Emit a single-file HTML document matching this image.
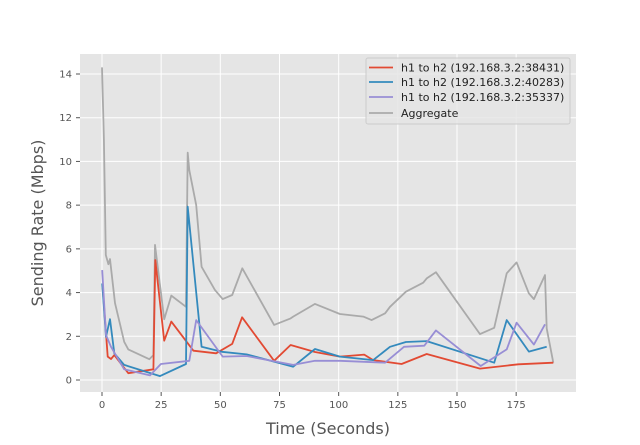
<!DOCTYPE html>
<html><head><meta charset="utf-8"><style>
body{margin:0;background:#fff;}
svg text{font-family:"DejaVu Sans","Liberation Sans",sans-serif;}
</style></head><body>
<svg id="chart" width="640" height="440" xmlns="http://www.w3.org/2000/svg">
<rect x="0" y="0" width="640" height="440" fill="#fff"/>
<rect x="80" y="54" width="496" height="338" fill="#e5e5e5"/>
<g id="grid"></g><g id="series"></g><g id="axes"></g><g id="legend"></g>
</svg>
<script>
const xTicks=[0,25,50,75,100,125,150,175];
const yTicks=[0,2,4,6,8,10,12,14];
const seriesNames=["h1 to h2 (192.168.3.2:38431)","h1 to h2 (192.168.3.2:40283)","h1 to h2 (192.168.3.2:35337)","Aggregate"];
const seriesColors=["#e24a33","#348abd","#988ed5","#aaaaaa"];
const redX=[0.3,2.4,3.8,5.2,11.1,21.7,22.5,26.3,29.3,38.6,48.2,55.0,59.2,72.7,79.7,90,100.5,110.8,114.6,126.6,137.2,159.7,175.9,190.7];
const redY=[4.2,1.07,0.96,1.14,0.31,0.49,5.49,1.80,2.67,1.34,1.22,1.65,2.87,0.88,1.60,1.28,1.07,1.16,0.91,0.73,1.19,0.52,0.72,0.79];
const blueX=[0.1,1.7,3.4,5.2,9.4,24.5,35.5,36.2,42.1,50.6,61.1,80.8,90,100.5,114.6,121.7,128.4,137.2,165.7,171,180.4,187.9];
const blueY=[4.42,1.98,2.78,1.22,0.69,0.18,0.73,7.93,1.52,1.29,1.17,0.61,1.42,1.07,0.91,1.52,1.74,1.78,0.79,2.74,1.30,1.52];
const purpleX=[0.1,1.7,3.8,9.4,20.3,24.9,36.9,39.8,51,61.1,80.8,90,100.5,119.6,127.6,136.2,141.1,160,171,175.2,182.5,187.2];
const purpleY=[5.03,2.06,1.52,0.49,0.21,0.73,0.88,2.74,1.07,1.10,0.69,0.88,0.88,0.79,1.52,1.57,2.27,0.64,1.40,2.62,1.62,2.55];
const aggX=[0,0.8,1.6,2.7,3.4,5.5,9.4,11.1,20,21.7,22.4,26.3,29.3,35.5,36.2,36.9,39.8,42.1,47.7,51,55,59.3,72.7,79.7,80.8,90,100.5,110.4,113.9,119.6,121.7,128.4,135.7,137.2,141.1,159.7,165.7,171,175.2,180.4,182.5,187.2,187.9,190.7];
const aggY=[14.3,11,5.72,5.3,5.53,3.52,1.75,1.40,0.95,1.14,6.18,2.78,3.86,3.35,10.4,9.6,8.0,5.18,4.12,3.70,3.89,5.11,2.52,2.82,2.90,3.48,3.02,2.90,2.74,3.05,3.35,4.04,4.45,4.65,4.93,2.10,2.39,4.88,5.38,3.96,3.70,4.80,2.36,0.79];
const xs=[redX,blueX,purpleX,aggX], ys=[redY,blueY,purpleY,aggY];
const NS="http://www.w3.org/2000/svg";
function sx(v){return 102+v*(457-102)/150;}
function sy(v){return 380-v*(380-74)/14;}
function mk(parent,tag,attrs){const e=document.createElementNS(NS,tag);for(const k in attrs)e.setAttribute(k,attrs[k]);document.getElementById(parent).appendChild(e);return e;}
xTicks.forEach(t=>{
 const l=mk('grid','line',{x1:sx(t),x2:sx(t),y1:54,y2:392,stroke:'#fff','stroke-width':1});
 
 
 const tk=mk('axes','line',{x1:sx(t),x2:sx(t),y1:392,y2:396,stroke:'#555'});
 
 
 const tx=mk('axes','text',{x:sx(t),y:408,'font-size':10,fill:'#555','text-anchor':'middle'});
 tx.textContent=t;
 
 
});
yTicks.forEach(t=>{
 const l=mk('grid','line',{x1:80,x2:576,y1:sy(t),y2:sy(t),stroke:'#fff','stroke-width':1});
 
 
 const tk=mk('axes','line',{x1:76,x2:80,y1:sy(t),y2:sy(t),stroke:'#555'});
 
 
 const tx=mk('axes','text',{x:72,y:sy(t)+3.5,'font-size':10,fill:'#555','text-anchor':'end'});
 tx.textContent=t;
 
 
});
const xt=mk('axes','text',{x:328,y:434,'font-size':16,fill:'#555','text-anchor':'middle'});
xt.textContent='Time (Seconds)';


const yt=mk('axes','text',{x:43,y:223,'font-size':16,fill:'#555','text-anchor':'middle',transform:'rotate(-90 43 223)'});
yt.textContent='Sending Rate (Mbps)';


[3,0,1,2].forEach(i=>{
 const pts=xs[i].map((x,j)=>sx(x).toFixed(1)+','+sy(ys[i][j]).toFixed(1)).join(' ');
 const p=mk('series','polyline',{points:pts,fill:'none',stroke:seriesColors[i],'stroke-width':1.8,'stroke-linejoin':'round'});
 
 
});
const lb=mk('legend','rect',{x:366,y:58,width:204,height:66,rx:2,fill:'#e5e5e5',stroke:'#ccc','fill-opacity':0.8});


const ly=[67.5,82,97,113];
seriesNames.forEach((n,i)=>{
 const l=mk('legend','line',{x1:369,x2:393,y1:ly[i],y2:ly[i],stroke:seriesColors[i],'stroke-width':1.8});
 
 
 const t=mk('legend','text',{x:401,y:ly[i]+4,'font-size':11,fill:'#222'});
 t.textContent=n;
 
 
});
</script>
</body></html>
